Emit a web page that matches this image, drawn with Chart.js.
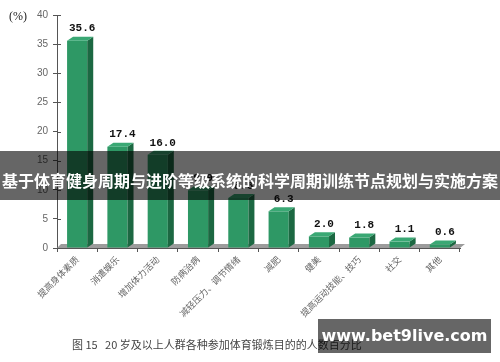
<!DOCTYPE html>
<html>
<head>
<meta charset="utf-8">
<script src="https://cdn.jsdelivr.net/npm/chart.js@4/dist/chart.umd.min.js"></script>
<style>
html,body{margin:0;padding:0;background:#fff;}
#wrap{position:relative;width:500px;height:362px;overflow:hidden;background:#fff;}
#c{position:absolute;left:0;top:0;}
#unit{position:absolute;left:9px;top:9px;font:12px "Liberation Serif","Noto Sans CJK SC",serif;color:#222;}
#caption{position:absolute;left:72px;top:336px;font:11px "Noto Sans CJK SC",sans-serif;color:#444;white-space:pre;}
#banner{position:absolute;left:0;top:151px;width:500px;height:49px;background:rgba(0,0,0,0.6);color:#fff;
  font:bold 16px "Noto Sans CJK SC",sans-serif;text-align:center;line-height:58px;white-space:nowrap;}
#wm{position:absolute;left:318px;top:319px;width:173px;height:34px;background:rgba(0,0,0,0.6);color:#fff;
  font:bold 16px "DejaVu Sans",sans-serif;text-align:center;line-height:34px;white-space:nowrap;}
</style>
</head>
<body>
<div id="wrap">
<canvas id="c" width="500" height="362"></canvas>
<div id="unit">(%)</div>
<div id="caption">图 15   20 岁及以上人群各种参加体育锻炼目的的人数百分比</div>
<div id="banner">基于体育健身周期与进阶等级系统的科学周期训练节点规划与实施方案</div>
<div id="wm">www.bet9live.com</div>
</div>
<script>
const categories = ["提高身体素质","消遣娱乐","增加体力活动","防病治病","减轻压力、调节情绪","减肥","健美","提高运动技能、技巧","社交","其他"];
const values = [35.6, 17.4, 16.0, 9.9, 8.6, 6.3, 2.0, 1.8, 1.1, 0.6];
const yMin = 0, yMax = 40, yStep = 5;

const bar3d = {
  id: 'bar3d',
  beforeDatasetsDraw(chart) {
    const ctx = chart.ctx, a = chart.chartArea;
    ctx.save();
    ctx.fillStyle = '#9c9c9c';
    ctx.beginPath();
    ctx.moveTo(a.left, a.bottom);
    ctx.lineTo(a.right, a.bottom);
    ctx.lineTo(a.right + 5, a.bottom - 4);
    ctx.lineTo(a.left + 4, a.bottom - 4);
    ctx.closePath();
    ctx.fill();
    ctx.restore();
  },
  afterDatasetsDraw(chart) {
    const ctx = chart.ctx;
    const meta = chart.getDatasetMeta(0);
    const dx = 6, dy = 4;
    const poly = pts => { ctx.beginPath(); ctx.moveTo(pts[0][0], pts[0][1]); for (let i = 1; i < pts.length; i++) ctx.lineTo(pts[i][0], pts[i][1]); ctx.closePath(); ctx.fill(); };
    ctx.save();
    meta.data.forEach((el, i) => {
      const p = el.getProps(['x', 'y', 'base', 'width'], true);
      const l = p.x - p.width / 2, r = p.x + p.width / 2;
      ctx.fillStyle = '#1c6842';
      poly([[r, p.y], [r + dx, p.y - dy], [r + dx, p.base - dy], [r, p.base]]);
      ctx.fillStyle = '#3aa874';
      poly([[l, p.y], [l + dx, p.y - dy], [r + dx, p.y - dy], [r, p.y]]);
      ctx.fillStyle = '#111';
      ctx.font = 'bold 11px "Liberation Mono", monospace';
      ctx.textAlign = 'center';
      ctx.textBaseline = 'middle';
      ctx.fillText(values[i].toFixed(1), p.x + 5, p.y - 12);
    });
    const ys = chart.scales.y, a = chart.chartArea;
    ctx.strokeStyle = '#555';
    ctx.lineWidth = 1;
    for (let v = yMin; v <= yMax; v += yStep) {
      const yy = Math.round(ys.getPixelForValue(v)) + 0.5;
      ctx.beginPath(); ctx.moveTo(a.left, yy); ctx.lineTo(a.left + 4, yy); ctx.stroke();
    }
    ctx.restore();
  }
};

new Chart(document.getElementById('c'), {
  type: 'bar',
  data: {
    labels: categories,
    datasets: [{
      data: values,
      backgroundColor: '#2e9865',
      borderWidth: 0,
      barPercentage: 0.5,
      categoryPercentage: 1.0
    }]
  },
  options: {
    responsive: false,
    animation: false,
    layout: { padding: { left: 0, right: 40, top: 15, bottom: 0 } },
    plugins: { legend: { display: false }, tooltip: { enabled: false } },
    scales: {
      x: {
        afterFit(s) { s.height = 114; },
        grid: { display: true, drawOnChartArea: false, drawTicks: true, tickLength: 4, color: '#555', offset: true },
        border: { display: true, color: '#555', width: 1 },
        ticks: {
          minRotation: 45, maxRotation: 45, autoSkip: false, padding: 2,
          font: { size: 9, family: '"Noto Sans CJK SC", sans-serif' }, color: '#666'
        }
      },
      y: {
        min: yMin, max: yMax,
        afterFit(s) { s.width = 57; },
        grid: { display: true, drawOnChartArea: false, drawTicks: true, tickLength: 4, color: '#555' },
        border: { display: true, color: '#555', width: 1 },
        ticks: { stepSize: yStep, padding: 5, font: { size: 10, family: '"Liberation Sans", sans-serif' }, color: '#666' }
      }
    }
  },
  plugins: [bar3d]
});
</script>
</body>
</html>
